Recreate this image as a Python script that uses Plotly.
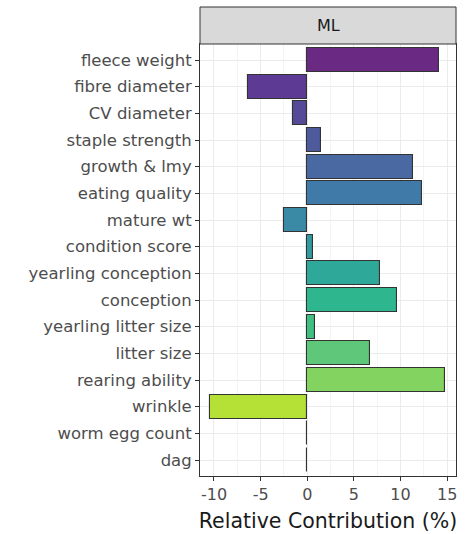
import plotly.graph_objects as go

# Traits in display order (top to bottom)
traits = [
    "fleece weight", "fibre diameter", "CV diameter", "staple strength",
    "growth & lmy", "eating quality", "mature wt", "condition score",
    "yearling conception", "conception", "yearling litter size",
    "litter size", "rearing ability", "wrinkle", "worm egg count", "dag",
]
# Relative contribution (%) of each trait for the ML index
contribution = [
    14.1, -6.4, -1.5, 1.5,
    11.3, 12.3, -2.5, 0.6,
    7.75, 9.6, 0.85,
    6.7, 14.8, -10.4, 0.0, 0.0,
]
# Viridis-style fill per trait
fills = [
    "#6a2a84", "#5d3a94", "#544a98", "#4d5a9c",
    "#4a69a2", "#3f7aa8", "#3a8aa5", "#319a9e",
    "#2ea898", "#2eb68f", "#3fbf84",
    "#5ec77a", "#82d35f", "#b5e035", "#d6e62c", "#f2e838",
]
x_ticks = [-10, -5, 0, 5, 10, 15]
panel_label = "ML"

fig = go.Figure(
    go.Bar(
        x=contribution,
        y=traits,
        orientation="h",
        width=0.9,
        marker=dict(color=fills, line=dict(color="#333333", width=1.1)),
        showlegend=False,
    )
)

grid = "#ebebeb"
fig.update_layout(
    width=475,
    height=534,
    margin=dict(l=200, r=19, t=44, b=58),
    paper_bgcolor="white",
    plot_bgcolor="white",
    font=dict(family="DejaVu Sans, Liberation Sans, sans-serif", color="#4d4d4d"),
    bargap=0,
    xaxis=dict(
        range=[-11.5, 15.95],
        tickvals=x_ticks,
        ticktext=[str(v) for v in x_ticks],
        tickfont=dict(size=16, color="#4d4d4d"),
        ticks="outside",
        ticklen=4,
        tickcolor="#333333",
        showgrid=True,
        gridcolor=grid,
        gridwidth=1.2,
        minor=dict(dtick=2.5, showgrid=True, gridcolor="#f4f4f4", gridwidth=0.8),
        zeroline=False,
        showline=True,
        linecolor="#333333",
        linewidth=1,
        mirror=True,
        automargin=False,
        title=dict(text="Relative Contribution (%)", font=dict(size=20.5, color="#1a1a1a"), standoff=10),
    ),
    yaxis=dict(
        type="category",
        categoryorder="array",
        categoryarray=traits,
        range=[15.6, -0.6],
        tickfont=dict(size=16.5, color="#4d4d4d"),
        ticks="outside",
        ticklen=4,
        tickcolor="#333333",
        showgrid=True,
        gridcolor=grid,
        gridwidth=1.2,
        zeroline=False,
        showline=True,
        linecolor="#333333",
        linewidth=1,
        mirror=True,
        automargin=False,
    ),
)

# Facet strip above the panel
fig.add_shape(
    type="rect", xref="paper", yref="paper",
    x0=0, x1=1, y0=1, y1=1 + 37 / 432,
    fillcolor="#d9d9d9", line=dict(color="#333333", width=1),
)
fig.add_annotation(
    text=panel_label, xref="paper", yref="paper",
    x=0.5, y=1 + 18.5 / 432, showarrow=False,
    font=dict(size=16, color="#1a1a1a"),
    xanchor="center", yanchor="middle",
)

fig.write_html("out.html")
